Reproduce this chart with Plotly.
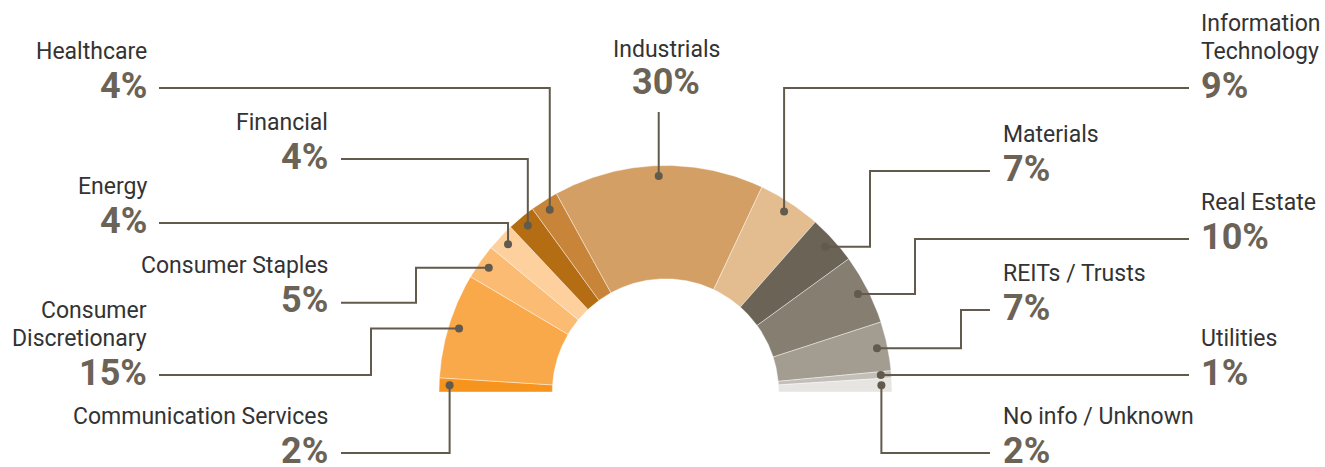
import math
import plotly.graph_objects as go

# ---- data ----
categories = ["Communication Services", "Consumer Discretionary", "Consumer Staples",
              "Energy", "Financial", "Healthcare", "Industrials",
              "Information Technology", "Materials", "Real Estate",
              "REITs / Trusts", "Utilities", "No info / Unknown"]
values = [2, 15, 5, 4, 4, 4, 30, 9, 7, 10, 7, 1, 2]
name_lines = [["Communication Services"], ["Consumer", "Discretionary"], ["Consumer Staples"],
              ["Energy"], ["Financial"], ["Healthcare"], ["Industrials"],
              ["Information", "Technology"], ["Materials"], ["Real Estate"],
              ["REITs / Trusts"], ["Utilities"], ["No info / Unknown"]]

# ---- styles ----
colors = ["#F7941D", "#F9A84A", "#FBBB73", "#FDD09E", "#B56D13", "#C88539", "#D39F64",
          "#E3BC8F", "#6B6355", "#857E71", "#A39C91", "#C3BFB8", "#E6E5E1"]
LINE_C = "#625A4C"
NAME_C = "#333333"
PCT_C = "#6B6355"
FONT = "Roboto"

# ---- geometry / layout (pixel-like coordinates) ----
W, H = 1325, 467
cx, cy, R_out, R_in, R_dot = 665.5, 392.0, 226.5, 113.2, 216.0

# route: (kind, elbow_x, level_y, end_x, side, text_x)
routes = [
    ("v",   None, 453, 341, "L", 330),
    ("hvh", 371,  375, 159, "L", 149),
    ("hvh", 416,  302.7, 341, "L", 330),
    ("v",   None, 223, 159, "L", 149),
    ("v",   None, 159, 341, "L", 330),
    ("v",   None, 88,  159, "L", 149),
    ("up",  None, 112, None, "C", 666),
    ("v",   None, 88,  1189, "R", 1199),
    ("hvh", 870,  171, 990, "R", 1001),
    ("hvh", 915,  239, 1189, "R", 1199),
    ("hvh", 961,  310, 990, "R", 1001),
    ("h",   None, None, 1189, "R", 1199),
    ("v",   None, 453, 990, "R", 1001),
]

fig = go.Figure()

total = sum(values)
cum = 0.0
dots = []
for cat, v, col in zip(categories, values, colors):
    a0 = math.pi * (1 - cum / total)
    a1 = math.pi * (1 - (cum + v) / total)
    n = max(8, int(v * 4))
    xs, ys = [], []
    for i in range(n + 1):
        a = a0 + (a1 - a0) * i / n
        xs.append(cx + R_out * math.cos(a)); ys.append(cy - R_out * math.sin(a))
    for i in range(n + 1):
        a = a1 + (a0 - a1) * i / n
        xs.append(cx + R_in * math.cos(a)); ys.append(cy - R_in * math.sin(a))
    xs.append(xs[0]); ys.append(ys[0])
    fig.add_trace(go.Scatter(x=xs, y=ys, mode="lines", fill="toself", fillcolor=col,
                             line=dict(color="rgba(255,255,255,0.6)", width=0.7),
                             hoverinfo="skip", showlegend=False))
    am = (a0 + a1) / 2
    dots.append((cx + R_dot * math.cos(am), cy - R_dot * math.sin(am)))
    cum += v

annotations = []
for i, (cat, v) in enumerate(zip(categories, values)):
    kind, ex, ly, endx, side, tx = routes[i]
    dx, dy = dots[i]
    if kind == "v":
        px, py = [dx, dx, endx], [dy, ly, ly]
    elif kind == "hvh":
        px, py = [dx, ex, ex, endx], [dy, dy, ly, ly]
    elif kind == "h":
        ly = dy
        px, py = [dx, endx], [dy, dy]
    else:
        px, py = [dx, dx], [dy, ly]
    fig.add_trace(go.Scatter(x=px, y=py, mode="lines", line=dict(color=LINE_C, width=2),
                             hoverinfo="skip", showlegend=False))
    fig.add_trace(go.Scatter(x=[dx], y=[dy], mode="markers",
                             marker=dict(color=LINE_C, size=8), hoverinfo="skip",
                             showlegend=False))
    xa = {"L": "right", "R": "left", "C": "center"}[side]
    if side == "C":
        pct_y = 82
        name_base = 49
    else:
        pct_y = ly - 2.5
        name_base = ly - 37
    annotations.append(dict(x=tx, y=pct_y, xref="x", yref="y", text=f"{v}%",
                            showarrow=False, xanchor=xa, yanchor="middle",
                            font=dict(family=FONT, size=36, color=PCT_C, weight=700)))
    lines = name_lines[i]
    for k, t in enumerate(reversed(lines)):
        annotations.append(dict(x=tx, y=name_base - k * 28, xref="x", yref="y", text=t,
                                showarrow=False, xanchor=xa, yanchor="middle",
                                font=dict(family=FONT, size=23, color=NAME_C)))

fig.update_layout(
    width=W, height=H, margin=dict(l=0, r=0, t=0, b=0),
    paper_bgcolor="white", plot_bgcolor="white",
    xaxis=dict(range=[0, W], visible=False, fixedrange=True),
    yaxis=dict(range=[H, 0], visible=False, fixedrange=True),
    annotations=annotations, showlegend=False,
)
fig.write_html("out.html", config={"displayModeBar": False},
               post_script="document.body.style.margin='0';")
